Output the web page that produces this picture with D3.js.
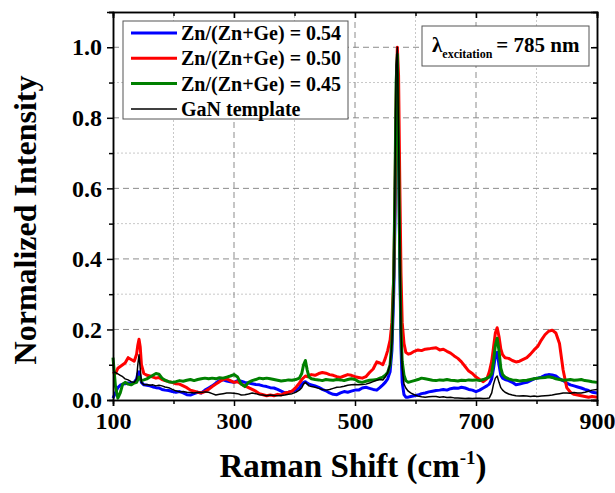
<!doctype html>
<html>

<head>
    <style>
        body { margin: 0; background: #fff; }
        text { font-family: "Liberation Serif", "Times New Roman", serif; font-weight: bold; }
        .major-grid line { stroke: #8c8c8c; stroke-dasharray: 6,4; stroke-width: 1; }
        .minor-grid line { stroke: #c8c8c8; stroke-dasharray: 2,2; stroke-width: 1; }
        .axis path, .axis line { stroke: #000; stroke-width: 1.5; }
        .trace { fill: none; stroke-linejoin: round; }
    </style>
    <script src="https://d3js.org/d3.v7.min.js"></script>
</head>

<body>
    <svg width="615" height="493"></svg>
    <script>

        // Raman shift positions (cm-1) shared by every spectrum
        var shift = [
            100, 104, 108, 112, 116, 120, 125, 130, 135, 139,
            141, 143, 145, 147,
            151, 156, 161, 166, 171, 176, 181, 186,
            192, 198, 204, 210, 216, 222, 228, 234, 240, 246, 252, 258, 264, 270, 276, 282, 288, 294, 300, 306, 312, 318, 324, 330, 336, 342, 348, 354, 360, 366, 372, 378, 384, 390, 396, 402, 408,
            412, 415, 418, 421, 424, 428,
            434, 440, 446, 452, 458, 464, 470, 476, 482, 488, 494, 500, 506, 512, 518, 524, 530,
            536, 541, 546, 550, 554, 558, 561, 564, 566, 568, 570, 572, 574, 576, 578, 581, 584, 588, 592,
            598, 604, 610, 616, 622, 628, 634, 640, 646, 652, 658, 664, 670, 676, 682, 688, 694, 700, 706, 712, 718,
            722, 726, 729, 732, 735, 738, 741, 744, 748,
            754, 760, 766, 772, 778, 784, 790, 796, 802, 808, 814, 820, 826, 832, 838, 844, 850, 856, 862, 868, 874, 880, 886, 892,
            900
        ];

        // Zn/(Zn+Ge) = 0.54
        var blue54 = [
            0.005, 0.02, 0.035, 0.042, 0.045, 0.046, 0.048, 0.047, 0.05, 0.06,
            0.075, 0.08, 0.065, 0.05,
            0.043, 0.042, 0.04, 0.037, 0.035, 0.034, 0.03, 0.028,
            0.027, 0.024, 0.022, 0.024, 0.02, 0.015, 0.014, 0.018, 0.022, 0.02, 0.028, 0.034, 0.04, 0.048, 0.055, 0.057, 0.054, 0.052, 0.05, 0.055, 0.053, 0.05, 0.048, 0.046, 0.044, 0.043, 0.04, 0.038, 0.035, 0.034, 0.03, 0.025, 0.02, 0.022, 0.025, 0.028, 0.035,
            0.045, 0.05, 0.052, 0.048, 0.045, 0.043,
            0.04, 0.036, 0.03, 0.026, 0.02, 0.016, 0.015, 0.02, 0.024, 0.022, 0.025, 0.028, 0.028, 0.034, 0.036, 0.033, 0.03,
            0.028, 0.035, 0.043, 0.05, 0.06, 0.08, 0.14, 0.3, 0.5, 0.8, 0.95, 0.7, 0.4, 0.15, 0.05, 0.015, 0.008, 0.008, 0.01,
            0.012, 0.014, 0.018, 0.02, 0.023, 0.025, 0.027, 0.028, 0.03, 0.028, 0.032, 0.034, 0.033, 0.036, 0.034, 0.03, 0.028, 0.024, 0.028, 0.034, 0.04,
            0.045, 0.06, 0.09, 0.125, 0.135, 0.1, 0.07, 0.062, 0.058,
            0.055, 0.05, 0.043, 0.045, 0.048, 0.05, 0.055, 0.06, 0.062, 0.065, 0.07, 0.072, 0.071, 0.068, 0.06, 0.055, 0.048, 0.043, 0.04, 0.037, 0.034, 0.03, 0.027, 0.022,
            0.02
        ];

        // Zn/(Zn+Ge) = 0.50
        var red50 = [
            0.08, 0.075, 0.09, 0.095, 0.1, 0.105, 0.12, 0.115, 0.11, 0.13,
            0.155, 0.172, 0.15, 0.1,
            0.075, 0.07, 0.068, 0.065, 0.062, 0.064, 0.058, 0.055,
            0.052, 0.05, 0.046, 0.045, 0.04, 0.035, 0.028, 0.025, 0.022, 0.02, 0.024, 0.03, 0.038, 0.045, 0.052, 0.058, 0.06, 0.055, 0.05, 0.052, 0.045, 0.04, 0.035, 0.03, 0.025, 0.018, 0.015, 0.012, 0.014, 0.012, 0.016, 0.014, 0.02, 0.022, 0.025, 0.035, 0.048,
            0.058, 0.063, 0.068, 0.066, 0.07, 0.072,
            0.07, 0.075, 0.078, 0.076, 0.072, 0.07, 0.066, 0.064, 0.068, 0.072, 0.07, 0.066, 0.064, 0.062, 0.066, 0.078, 0.088,
            0.108, 0.105, 0.1, 0.118, 0.14, 0.17, 0.22, 0.35, 0.55, 0.85, 1.0, 0.92, 0.62, 0.36, 0.22, 0.16, 0.135, 0.13, 0.132,
            0.138, 0.142, 0.14, 0.144, 0.145, 0.147, 0.148, 0.142, 0.144, 0.138, 0.133, 0.125, 0.118, 0.108, 0.095, 0.082, 0.075, 0.065, 0.058, 0.052, 0.06,
            0.08, 0.11, 0.15, 0.19, 0.205, 0.18, 0.145, 0.128, 0.12,
            0.118, 0.112, 0.108, 0.11, 0.115, 0.12, 0.13, 0.142, 0.152, 0.17, 0.185, 0.195, 0.198, 0.19, 0.16, 0.085, 0.035, 0.022, 0.016, 0.014, 0.012, 0.01, 0.008, 0.01,
            0.008
        ];

        // Zn/(Zn+Ge) = 0.45
        var green45 = [
            0.12, 0.04, 0.005, 0.02, 0.045, 0.05, 0.045, 0.043, 0.048, 0.05,
            0.058, 0.065, 0.06, 0.055,
            0.057, 0.06, 0.065, 0.07, 0.075, 0.073, 0.062, 0.056,
            0.052, 0.05, 0.052, 0.055, 0.053, 0.056, 0.058, 0.055, 0.058, 0.06, 0.062, 0.06, 0.062, 0.06, 0.063, 0.062, 0.065, 0.068, 0.072, 0.065, 0.045, 0.038, 0.05, 0.055, 0.058, 0.062, 0.06, 0.062, 0.06, 0.058, 0.056, 0.054, 0.055, 0.057, 0.056, 0.058, 0.062,
            0.075, 0.1, 0.112, 0.085, 0.065, 0.06,
            0.058, 0.057, 0.055, 0.058, 0.057, 0.056, 0.058, 0.057, 0.055, 0.058, 0.06, 0.058, 0.052, 0.05, 0.053, 0.056, 0.057,
            0.058, 0.062, 0.065, 0.07, 0.078, 0.1, 0.17, 0.35, 0.6, 0.9, 0.98, 0.7, 0.4, 0.2, 0.11, 0.07, 0.055, 0.05, 0.052,
            0.055, 0.058, 0.062, 0.06, 0.058, 0.056, 0.055, 0.057, 0.056, 0.058, 0.056, 0.055, 0.054, 0.056, 0.055, 0.057, 0.056, 0.057, 0.055, 0.058, 0.062,
            0.065, 0.075, 0.11, 0.155, 0.175, 0.14, 0.09, 0.072, 0.065,
            0.06, 0.057, 0.056, 0.054, 0.055, 0.056, 0.058, 0.06, 0.062, 0.063, 0.064, 0.066, 0.064, 0.06, 0.058, 0.056, 0.057, 0.058, 0.056, 0.057, 0.058, 0.055, 0.054, 0.052,
            0.05
        ];

        // GaN template
        var ganTemplate = [
            0.08, 0.078, 0.074, 0.07, 0.066, 0.06, 0.057, 0.052, 0.05, 0.06,
            0.1, 0.128, 0.09, 0.05,
            0.043, 0.044, 0.042, 0.043, 0.04, 0.042, 0.04, 0.037,
            0.035, 0.03, 0.026, 0.023, 0.024, 0.022, 0.021, 0.02, 0.022, 0.021, 0.023, 0.022, 0.018, 0.014, 0.016, 0.018, 0.02, 0.02, 0.019, 0.018, 0.014, 0.015, 0.017, 0.02, 0.018, 0.015, 0.014, 0.012, 0.014, 0.013, 0.012, 0.013, 0.014, 0.016, 0.018, 0.022, 0.028,
            0.035, 0.045, 0.05, 0.045, 0.04, 0.038,
            0.036, 0.033, 0.03, 0.028, 0.03, 0.033, 0.036, 0.037, 0.039, 0.042, 0.043, 0.044, 0.043, 0.044, 0.045, 0.048, 0.052,
            0.056, 0.058, 0.057, 0.065, 0.078, 0.1, 0.16, 0.32, 0.6, 0.95, 1.0, 0.75, 0.45, 0.2, 0.09, 0.045, 0.034, 0.025, 0.02,
            0.015, 0.011, 0.009, 0.008, 0.009, 0.01, 0.01, 0.008, 0.009, 0.007, 0.008, 0.006, 0.006, 0.005, 0.004, 0.005, 0.004, 0.005, 0.005, 0.004, 0.005,
            0.006, 0.02, 0.045, 0.062, 0.068, 0.05, 0.035, 0.028, 0.022,
            0.017, 0.014, 0.012, 0.011, 0.012, 0.011, 0.01, 0.011, 0.01, 0.011, 0.012, 0.013, 0.014, 0.016, 0.018, 0.02, 0.02, 0.019, 0.021, 0.02, 0.02, 0.022, 0.025, 0.028,
            0.03
        ];

        var seriesNames = ["Zn/(Zn+Ge) = 0.54", "Zn/(Zn+Ge) = 0.50", "Zn/(Zn+Ge) = 0.45", "GaN template"];
        var seriesColors = ["#0000ff", "#ff0000", "#008000", "#000000"];
        var seriesWidths = [3, 3, 3, 1.5];
        var seriesValues = [blue54, red50, green45, ganTemplate];

        var xTicks = [100, 300, 500, 700, 900];
        var xMinorTicks = [200, 400, 600, 800];
        var yTicks = [0, 0.2, 0.4, 0.6, 0.8, 1.0];
        var yMinorTicks = [0.1, 0.3, 0.5, 0.7, 0.9];

        var svg = d3.select("svg"),
            plotLeft = 113, plotRight = 597, plotTop = 12, plotBottom = 400;

        var x = d3.scaleLinear().domain([100, 900]).range([plotLeft, plotRight]),
            y = d3.scaleLinear().domain([0, 1.1]).range([plotBottom, plotTop]);

        // grid
        var minor = svg.append("g").attr("class", "minor-grid");
        minor.selectAll("line.v").data(xMinorTicks).enter().append("line")
            .attr("class", "v")
            .attr("x1", d => x(d)).attr("x2", d => x(d)).attr("y1", plotTop).attr("y2", plotBottom);
        minor.selectAll("line.h").data(yMinorTicks).enter().append("line")
            .attr("class", "h")
            .attr("y1", d => y(d)).attr("y2", d => y(d)).attr("x1", plotLeft).attr("x2", plotRight);

        var major = svg.append("g").attr("class", "major-grid");
        major.selectAll("line.v").data([300, 500, 700]).enter().append("line")
            .attr("class", "v")
            .attr("x1", d => x(d)).attr("x2", d => x(d)).attr("y1", plotTop).attr("y2", plotBottom);
        major.selectAll("line.h").data([0.2, 0.4, 0.6, 0.8, 1.0]).enter().append("line")
            .attr("class", "h")
            .attr("y1", d => y(d)).attr("y2", d => y(d)).attr("x1", plotLeft).attr("x2", plotRight);

        // spectra
        var line = d3.line()
            .x((d, i) => x(shift[i]))
            .y(d => y(d));

        var plot = svg.append("g");
        seriesValues.forEach(function (vals, k) {
            plot.append("path")
                .datum(vals)
                .attr("class", "trace")
                .attr("stroke", seriesColors[k])
                .attr("stroke-width", seriesWidths[k])
                .attr("d", line);
        });

        // axes: outward ticks on bottom/left, inward on top/right
        function styleAxis(g) {
            g.attr("class", "axis");
            g.selectAll("text").attr("font-size", "24px").attr("fill", "#000");
        }

        svg.append("g")
            .attr("transform", "translate(0," + plotBottom + ")")
            .call(d3.axisBottom(x).tickValues(xTicks).tickSize(6).tickPadding(6).tickFormat(d3.format("d")))
            .call(styleAxis);
        svg.append("g")
            .attr("transform", "translate(0," + plotBottom + ")")
            .call(d3.axisBottom(x).tickValues(xMinorTicks).tickSize(4).tickFormat(""))
            .call(styleAxis);

        svg.append("g")
            .attr("transform", "translate(" + plotLeft + ",0)")
            .call(d3.axisLeft(y).tickValues(yTicks).tickSize(6).tickPadding(5).tickFormat(d3.format(".1f")))
            .call(styleAxis);
        svg.append("g")
            .attr("transform", "translate(" + plotLeft + ",0)")
            .call(d3.axisLeft(y).tickValues(yMinorTicks.concat([1.1])).tickSize(4).tickFormat(""))
            .call(styleAxis);

        svg.append("g")
            .attr("transform", "translate(0," + plotTop + ")")
            .call(d3.axisTop(x).tickValues(xTicks).tickSize(-6).tickFormat(""))
            .call(styleAxis);
        svg.append("g")
            .attr("transform", "translate(0," + plotTop + ")")
            .call(d3.axisTop(x).tickValues(xMinorTicks).tickSize(-4).tickFormat(""))
            .call(styleAxis);

        svg.append("g")
            .attr("transform", "translate(" + plotRight + ",0)")
            .call(d3.axisRight(y).tickValues(yTicks).tickSize(-6).tickFormat(""))
            .call(styleAxis);
        svg.append("g")
            .attr("transform", "translate(" + plotRight + ",0)")
            .call(d3.axisRight(y).tickValues(yMinorTicks).tickSize(-4).tickFormat(""))
            .call(styleAxis);

        // axis titles
        svg.append("text")
            .attr("transform", "translate(36,220) rotate(-90)")
            .attr("text-anchor", "middle")
            .attr("font-size", "32px")
            .text("Normalized Intensity");

        var xt = svg.append("text")
            .attr("x", 353)
            .attr("y", 477)
            .attr("text-anchor", "middle")
            .attr("font-size", "33px");
        xt.append("tspan").text("Raman Shift (cm");
        xt.append("tspan").attr("font-size", "19px").attr("dy", -13).text("-1");
        xt.append("tspan").attr("dy", 13).text(")");

        // legend
        var legend = svg.append("g");
        legend.append("rect")
            .attr("x", 123).attr("y", 21).attr("width", 225).attr("height", 98)
            .attr("fill", "#fff").attr("stroke", "#555").attr("stroke-width", 1);
        seriesNames.forEach(function (name, k) {
            var ry = 33 + k * 25.3;
            legend.append("line")
                .attr("x1", 131).attr("x2", 177).attr("y1", ry).attr("y2", ry)
                .attr("stroke", seriesColors[k]).attr("stroke-width", seriesWidths[k]);
            legend.append("text")
                .attr("x", 181).attr("y", ry + 7)
                .attr("font-size", "20px")
                .text(name);
        });

        // excitation note
        svg.append("rect")
            .attr("x", 422).attr("y", 26).attr("width", 167).attr("height", 40)
            .attr("fill", "#fff").attr("stroke", "#555").attr("stroke-width", 1);
        var note = svg.append("text")
            .attr("x", 432).attr("y", 52)
            .attr("font-size", "21px");
        note.append("tspan").text("λ");
        note.append("tspan").attr("font-size", "12px").attr("dy", 6).text("excitation");
        note.append("tspan").attr("dy", -6).attr("dx", 4).text("= 785 nm");

    </script>
</body>

</html>
